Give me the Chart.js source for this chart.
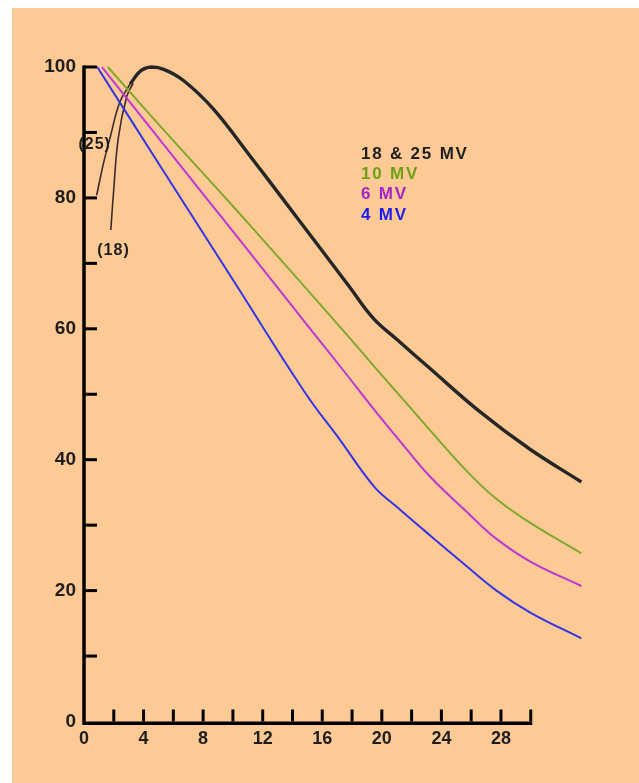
<!DOCTYPE html>
<html>
<head>
<meta charset="utf-8">
<script src="https://cdn.jsdelivr.net/npm/chart.js@4/dist/chart.umd.min.js"></script>
<style>
  body { margin: 0; background: #ffffff; }
  #wrap { position: absolute; left: 12px; top: 8px; width: 627px; height: 775px; background: #fdca96; }
</style>
</head>
<body>
<div id="wrap"><canvas id="myChart" width="627" height="775"></canvas></div>
<script>
// depth (cm) and relative dose (%)
var depth25 = [0.85, 1.3, 1.75, 2.4, 3.1];
var dose25 = [80.4, 85.2, 89.2, 94.6, 97.4];
var depth18 = [1.8, 1.97, 2.3, 2.87, 3.3];
var dose18 = [75.1, 80.4, 89.1, 95.5, 97.5];
var depthHigh = [3.1, 3.8, 4.55, 5.4, 6.7, 8.68, 11.15, 13.4, 15.6, 17.86, 19.43, 21.0, 23.2, 26.6, 29.95, 33.4];
var doseHigh = [97.4, 99.4, 100, 99.6, 97.9, 93.6, 86.4, 79.7, 73.1, 66.3, 61.6, 58.4, 54.0, 47.3, 41.6, 36.6];
var depth10 = [1.6, 5.5, 9.58, 13.5, 17.5, 19.54, 21.4, 23.2, 25.9, 27.7, 30.0, 33.4];
var dose10 = [100, 90.0, 79.8, 69.8, 59.5, 54.1, 49.3, 44.6, 37.8, 34.0, 30.3, 25.7];
var depth6 = [1.2, 4.5, 8.24, 11.15, 15.3, 17.5, 19.5, 21.3, 23.2, 25.9, 27.7, 30.0, 33.4];
var dose6 = [100, 90.6, 79.9, 71.6, 59.7, 53.4, 47.6, 42.6, 37.5, 31.6, 27.9, 24.4, 20.7];
var depth4 = [0.89, 5.0, 10.0, 14.86, 17.2, 19.48, 21.0, 23.2, 25.4, 27.7, 30.0, 33.4];
var dose4 = [100, 85.3, 67.5, 50.2, 43.0, 35.9, 32.8, 28.5, 24.3, 20.0, 16.6, 12.7];

// legend texts and tick labels
var legendLabels = ["18 & 25 MV", "10 MV", "6 MV", "4 MV"];
var legendColors = ["#1e1e1e", "#6f9f14", "#a424cc", "#1c1cf0"];
var xTickLabels = [0, 4, 8, 12, 16, 20, 24, 28];
var yTickLabels = [0, 20, 40, 60, 80, 100];

function pts(xs, ys) {
  return xs.map(function (x, i) { return { x: x, y: ys[i] }; });
}

function serie(xs, ys, color, width) {
  return {
    data: pts(xs, ys),
    borderColor: color,
    borderWidth: width,
    pointRadius: 0,
    fill: false,
    tension: 0.4,
    clip: false,
  };
}

var fontFam = "'Liberation Sans', Arial, sans-serif";
var textColor = "#1e1e1e";

// axes with inward tick marks, drawn through the chart scales
var axesPlugin = {
  id: "axesInward",
  beforeDatasetsDraw: function (chart) {
    var ctx = chart.ctx;
    var xs = chart.scales.x, ys = chart.scales.y;
    var x0 = xs.getPixelForValue(0), x30 = xs.getPixelForValue(30);
    var y0 = ys.getPixelForValue(0), y100 = ys.getPixelForValue(100);
    ctx.save();
    ctx.strokeStyle = "#000";
    ctx.lineWidth = 3.5;
    ctx.lineCap = "butt";
    ctx.beginPath();
    ctx.moveTo(x0, y100 - 1.5);
    ctx.lineTo(x0, y0 + 1.75);
    ctx.lineTo(x30 + 1.5, y0 + 1.75);
    ctx.stroke();
    ctx.lineWidth = 3;
    xs.ticks.forEach(function (t) {
      if (t.value === 0) return;
      var px = xs.getPixelForValue(t.value);
      ctx.beginPath();
      ctx.moveTo(px, y0);
      ctx.lineTo(px, y0 - 12);
      ctx.stroke();
    });
    ys.ticks.forEach(function (t) {
      if (t.value === 0) return;
      var py = ys.getPixelForValue(t.value);
      ctx.beginPath();
      ctx.moveTo(x0, py);
      ctx.lineTo(x0 + 13, py);
      ctx.stroke();
    });
    ctx.restore();
  },
};

// legend text and branch labels
var textPlugin = {
  id: "labels",
  afterDatasetsDraw: function (chart) {
    var ctx = chart.ctx;
    var xs = chart.scales.x, ys = chart.scales.y;
    ctx.save();
    ctx.textBaseline = "middle";
    ctx.letterSpacing = "1.8px";
    ctx.font = "bold 17px " + fontFam;
    ctx.textAlign = "left";
    var lx = xs.getPixelForValue(18.6);
    var ly = ys.getPixelForValue(86.7);
    legendLabels.forEach(function (lab, i) {
      ctx.fillStyle = legendColors[i];
      ctx.fillText(lab, lx, ly + i * 20.3);
    });
    ctx.letterSpacing = "1px";
    ctx.font = "bold 16px " + fontFam;
    ctx.textAlign = "center";
    ctx.fillStyle = textColor;
    ctx.fillText("(25)", xs.getPixelForValue(0.72), ys.getPixelForValue(88.1));
    ctx.fillText("(18)", xs.getPixelForValue(1.98), ys.getPixelForValue(72.0));
    ctx.restore();
  },
};

var ctx = document.getElementById("myChart").getContext("2d");
var myChart = new Chart(ctx, {
  type: "line",
  data: {
    datasets: [
      serie(depth4, dose4, "#3434e4", 2),
      serie(depth6, dose6, "#bd36d6", 2),
      serie(depth10, dose10, "#7fa82a", 2),
      serie(depth25, dose25, "#3a2c2c", 1.6),
      serie(depth18, dose18, "#3a2c2c", 1.6),
      serie(depthHigh, doseHigh, "#262626", 3.4),
    ],
  },
  options: {
    responsive: false,
    animation: false,
    devicePixelRatio: 1,
    layout: { padding: { top: 59, right: 48.7, left: 0, bottom: 0 } },
    plugins: { legend: { display: false }, tooltip: { enabled: false } },
    scales: {
      x: {
        type: "linear",
        min: 0,
        max: 34,
        afterBuildTicks: function (s) {
          s.ticks = s.ticks.filter(function (t) { return t.value <= 30; });
        },
        afterFit: function (s) { s.height = 61.5; },
        grid: { display: false, drawTicks: false },
        border: { display: false },
        ticks: {
          stepSize: 2,
          autoSkip: false,
          maxRotation: 0,
          padding: 7,
          color: textColor,
          font: { family: fontFam, size: 18, weight: "bold" },
          callback: function (v) {
            return xTickLabels.indexOf(v) >= 0 ? String(v) : "";
          },
        },
      },
      y: {
        min: 0,
        max: 100,
        afterFit: function (s) { s.width = 72; },
        grid: { display: false, drawTicks: false },
        border: { display: false },
        ticks: {
          stepSize: 10,
          autoSkip: false,
          padding: 8,
          color: textColor,
          font: { family: fontFam, size: 19, weight: "bold" },
          callback: function (v) {
            return yTickLabels.indexOf(v) >= 0 ? String(v) : "";
          },
        },
      },
    },
  },
  plugins: [axesPlugin, textPlugin],
});
</script>
</body>
</html>
